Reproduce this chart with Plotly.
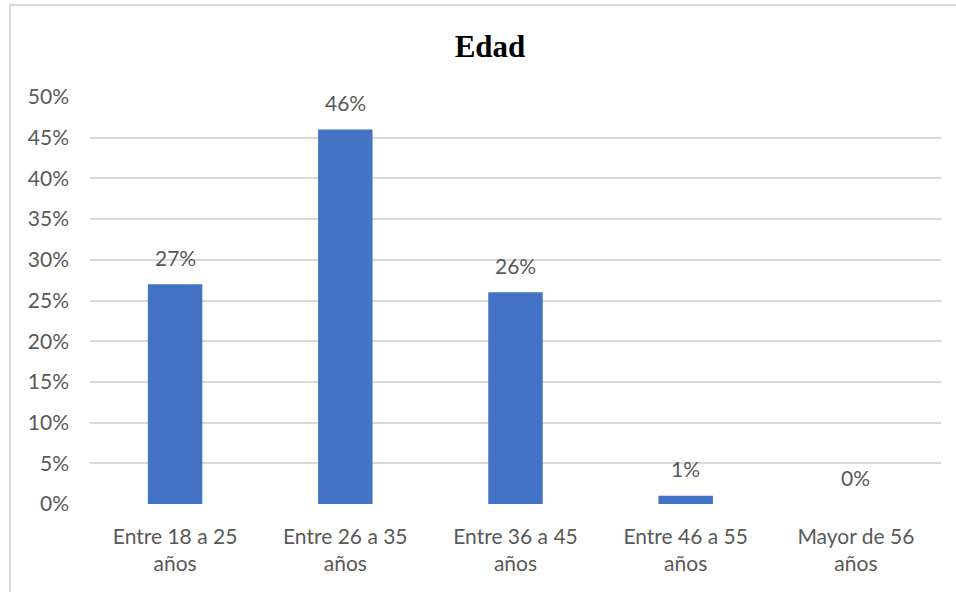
import plotly.graph_objects as go

categories = ["Entre 18 a 25<br>años", "Entre 26 a 35<br>años", "Entre 36 a 45<br>años",
              "Entre 46 a 55<br>años", "Mayor de 56<br>años"]
values = [0.27, 0.46, 0.26, 0.01, 0.0]
labels = ["27%", "46%", "26%", "1%", "0%"]
y_ticks = [i * 0.05 for i in range(11)]
y_ticktext = [f"{i*5}%" for i in range(11)]

W, H = 956, 592
L, R, T, B = 90, 15, 97, 88
FS = 21

fig = go.Figure()
fig.add_trace(go.Bar(x=categories, y=values, marker=dict(color="#4472C4", line=dict(width=0)),
                     hoverinfo="skip"))

for c, v, t in zip(categories, values, labels):
    fig.add_annotation(x=c, y=v, text=t, showarrow=False, yanchor="middle", yshift=27,
                       font=dict(family="Lato", size=FS, color="#595959"))

fig.add_shape(type="rect", xref="paper", yref="paper",
              x0=(10 - L) / (W - L - R), x1=1.2,
              y0=-0.5, y1=(H - B - 5) / (H - T - B),
              line=dict(color="#D9D9D9", width=2), layer="below")

fig.update_layout(
    width=W, height=H,
    margin=dict(l=L, r=R, t=T, b=B),
    paper_bgcolor="white", plot_bgcolor="white",
    showlegend=False,
    bargap=0.68,
    title=dict(text="<b>Edad</b>", x=490 / W, xref="container", xanchor="center",
               y=1 - 46 / H, yanchor="middle",
               font=dict(family="Liberation Serif", size=31, color="black")),
    yaxis=dict(range=[0, 0.5], tickvals=y_ticks, ticktext=y_ticktext,
               showgrid=True, gridcolor="#D9D9D9", gridwidth=2,
               zeroline=False, showline=False, ticks="", ticklabelstandoff=20,
               tickfont=dict(family="Lato", size=FS, color="#595959")),
    xaxis=dict(showgrid=False, showline=False, ticks="", zeroline=False,
               ticklabelstandoff=18,
               tickfont=dict(family="Lato", size=FS, color="#595959")),
)

fig.write_html("out.html")
